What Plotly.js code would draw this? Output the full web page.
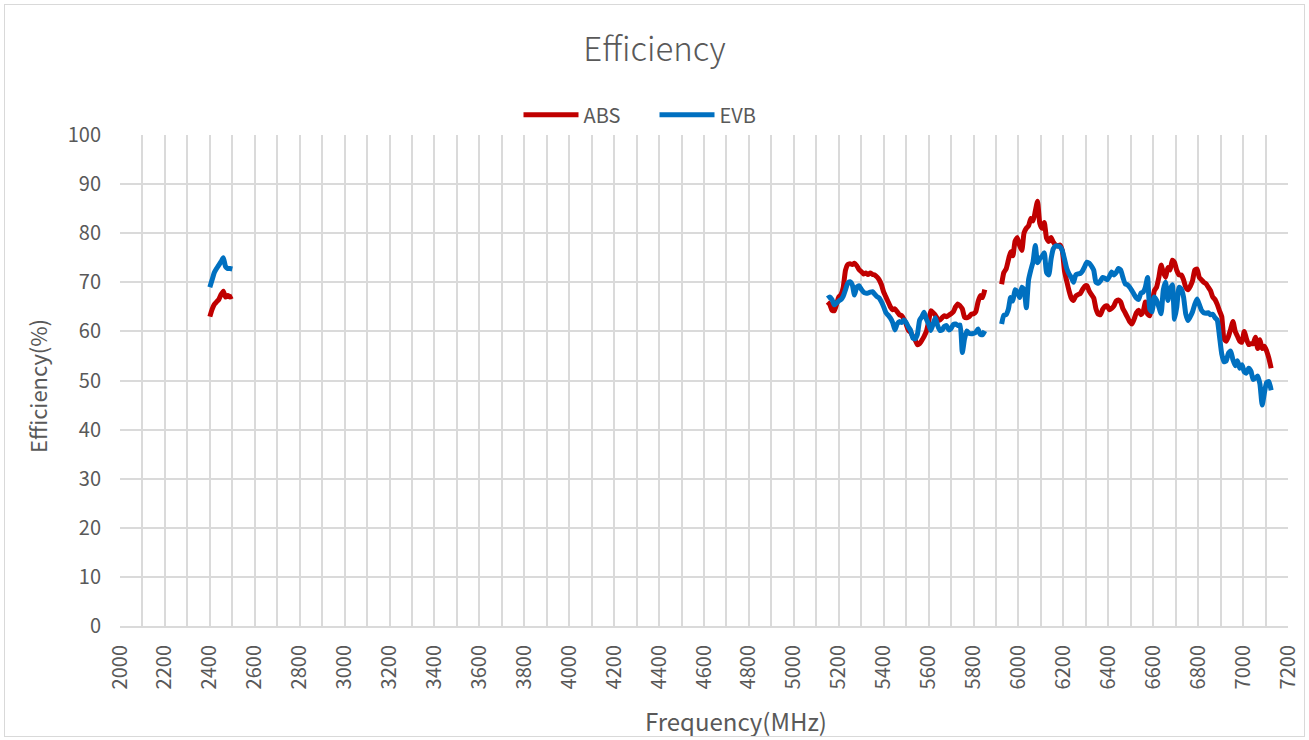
<!DOCTYPE html>
<html>
<head>
<meta charset="utf-8">
<script src="https://cdn.plot.ly/plotly-3.0.1.min.js"></script>
<style>
  html, body { margin: 0; padding: 0; background: #ffffff; }
  #wrap { position: relative; width: 1309px; height: 740px; }
  #chart { position: absolute; left: 0; top: 0; width: 1309px; height: 740px; }
  #frame { position: absolute; left: 4px; top: 4px; width: 1299px; height: 731px; border: 1.5px solid #d9d9d9; pointer-events: none; }
</style>
</head>
<body>
<div id="wrap"><div id="chart"></div><div id="frame"></div></div>
<script>
// ---- Data ----
// 2.4 GHz band: 2400..2500 MHz, 10 MHz step
const band24Start = 2400, band24Step = 10;
const absBand24 = [63, 64.5, 65.5, 66, 66.5, 67.5, 68.2, 67, 67.3, 67, 67.2];
const evbBand24 = [69, 70.5, 72, 72.8, 73.5, 74.2, 75, 73.2, 72.8, 72.8, 72.7];

// 5 GHz band: 5150..5850 MHz, 10 MHz step
const band5Start = 5150, band5Step = 10;
const absBand5 = [
  66, 65.5, 64.3, 64.2, 65.5, 67, 67.5, 69, 72.5, 73.6,
  73.8, 73.6, 73.9, 73.4, 72.6, 72.2, 71.7, 71.9, 71.6, 71.9,
  71.6, 71.5, 71.1, 70.5, 69.5, 68, 67, 66, 65, 64.4,
  64.6, 64, 63.4, 63.2, 62.5, 61.5, 60.2, 59.8, 59, 58.3,
  57.3, 57.5, 58.2, 59, 60, 62, 64.2, 63.8, 63.3, 62.5,
  62.3, 62.8, 63.2, 63, 63.3, 63.6, 64, 65, 65.6, 65.2,
  64.6, 62.9, 62.8, 63, 63.5, 63.6, 64, 66, 67.3, 66.9,
  68.5
];
const evbBand5 = [
  66.7, 67, 66.5, 65.4, 65.8, 66.2, 66.5, 67.2, 68.5, 69.8,
  70.1, 69.5, 67.4, 69, 69.3, 68.6, 68, 67.8, 67.8, 68,
  68.1, 67.6, 67.1, 66.8, 66, 65, 63.8, 63.3, 62.7, 61.8,
  60.3, 61.5, 62, 61.8, 62.3, 61.8, 60.9, 60.2, 58.6, 58.5,
  59.4, 62.3, 63, 63.9, 62.5, 61.5, 60.2, 61.5, 62.8, 61.2,
  60.2, 60.3, 61, 61.2, 60.3, 60.6, 61.4, 61.5, 61.2, 61.3,
  55.7, 58.5, 60.1, 59.6, 59.5, 59.6, 59.8, 60.5, 59.4, 59.3,
  60.1
];

// 6 GHz band: 5925..7125 MHz, 10 MHz step
const band6Start = 5925, band6Step = 10;
const absBand6 = [
  69.6, 72, 72.7, 74.5, 76.2, 75.4, 78.4, 79.1, 77.5, 76.5,
  80.1, 81, 81.5, 83, 82.5, 84.5, 86.5, 82, 81, 82.2,
  79, 78.3, 79.1, 78.2, 77.6, 77.4, 77.6, 76.5, 72.3, 70.2,
  68.3, 66.8, 66.3, 67.2, 67.5, 67.7, 68.5, 69.2, 69.3, 68.2,
  67.5, 66.8, 64.6, 63.5, 63.4, 64.5, 65.1, 65.2, 64.4, 64.7,
  65.2, 66.2, 66.4, 66, 64.6, 63.8, 62.9, 62, 61.5, 62.5,
  63.8, 64.3, 63.4, 64, 66, 63.5, 63.2, 65.5, 68.3, 69,
  71, 73.5, 72, 71, 73, 72.5, 74.5, 74, 72.4, 71.5,
  71.5, 70.5, 69, 68.5, 69.2, 70.3, 72.5, 72.7, 71, 70.5,
  70, 69.7, 69, 68.3, 67, 66.5, 65.5, 64.2, 63, 58.5,
  58, 59, 60.5, 62, 60, 59, 58, 57.8, 60, 58.5,
  57.3, 57.5, 57.5, 58.8, 56.5, 58.3, 56.5, 57, 56, 54.5,
  52.5
];
const evbBand6 = [
  61.5, 63.3, 63.4, 64.5, 66.9, 66.2, 68.5, 68, 66.9, 69,
  68.5, 64.8, 70.5, 72.5, 74.2, 77.5, 74, 74.8, 75.3, 76,
  72, 71.5, 74.7, 76.8, 77.4, 77.4, 77.2, 76.5, 74.7, 72.8,
  71.7, 71, 70, 71.5, 71.7, 71.8, 72.3, 73.2, 74.1, 73.9,
  73.3, 72.5, 70, 69.8, 70.3, 71, 70.8, 70.5, 71.2, 72.1,
  71.5, 72, 72.8, 72.5, 71, 69.7, 69.5, 69, 68.3, 67.5,
  66.8, 66.5, 67.8, 68, 69, 71, 64.5, 64, 67, 66.3,
  65, 63.6, 68.5, 70, 66.3, 68.5, 69.5, 62.5, 65, 69,
  68.6, 67, 63.5, 62.2, 63, 64, 65.5, 66.6, 65.5, 64.3,
  63.8, 63.7, 63.8, 63.4, 63.5, 62.8, 62.3, 59, 55.4, 53.8,
  54, 55.6, 56, 54.2, 53, 54, 52.5, 53.2, 51.8, 51.5,
  52.5, 51.9, 50.2, 50.5, 50.9, 49.3, 45, 47.5, 49.6, 49.8,
  48
];

const seriesNames = ['ABS', 'EVB'];
const seriesColors = ['#C00000', '#0070C0'];
const xTickVals = [2000,2200,2400,2600,2800,3000,3200,3400,3600,3800,4000,4200,4400,4600,4800,5000,5200,5400,5600,5800,6000,6200,6400,6600,6800,7000,7200];
const yTickVals = [0,10,20,30,40,50,60,70,80,90,100];
const chartTitle = 'Efficiency';
const xTitle = 'Frequency(MHz)';
const yTitle = 'Efficiency(%)';

// ---- Build traces (bands joined with null gaps) ----
function freqs(start, step, n) { const a = []; for (let i = 0; i < n; i++) a.push(start + i * step); return a; }
function joinBands(bands) {
  const xs = [], ys = [];
  bands.forEach((b, i) => {
    if (i > 0) { xs.push(null); ys.push(null); }
    const f = freqs(b[0], b[1], b[2].length);
    xs.push(...f); ys.push(...b[2]);
  });
  return { xs, ys };
}
const absJ = joinBands([[band24Start, band24Step, absBand24], [band5Start, band5Step, absBand5], [band6Start, band6Step, absBand6]]);
const evbJ = joinBands([[band24Start, band24Step, evbBand24], [band5Start, band5Step, evbBand5], [band6Start, band6Step, evbBand6]]);

const traces = [
  { x: absJ.xs, y: absJ.ys, name: seriesNames[0], type: 'scatter', mode: 'lines', connectgaps: false,
    line: { color: seriesColors[0], width: 5, shape: 'spline', smoothing: 0.5 } },
  { x: evbJ.xs, y: evbJ.ys, name: seriesNames[1], type: 'scatter', mode: 'lines', connectgaps: false,
    line: { color: seriesColors[1], width: 5, shape: 'spline', smoothing: 0.5 } }
];

// plot-area geometry helpers for placing the axis titles like the reference
const M = { l: 120, r: 21, t: 135, b: 114 };
const W = 1309, H = 740;
const pw = W - M.l - M.r, ph = H - M.t - M.b;
const pxToPaperX = px => (px - M.l) / pw;
const pxToPaperY = py => (H - M.b - py) / ph;

const fontFam = '"Noto Sans CJK SC", "Noto Sans", sans-serif';
const txtColor = '#595959';
const gridC = '#dadada';
const layout = {
  width: W, height: H,
  paper_bgcolor: '#ffffff', plot_bgcolor: '#ffffff',
  margin: { l: M.l, r: M.r, t: M.t, b: M.b, pad: 0 },
  font: { family: fontFam, color: txtColor, size: 20 },
  title: { text: chartTitle, font: { family: fontFam, size: 33, color: txtColor, weight: 300 },
           xref: 'container', x: 0.5, xanchor: 'center', yref: 'container', y: 0.933, yanchor: 'middle' },
  showlegend: true,
  legend: { orientation: 'h', xref: 'container', x: 0.5, xanchor: 'center', yref: 'container', y: 0.845, yanchor: 'middle',
            font: { family: fontFam, size: 20, color: txtColor }, entrywidth: 66, entrywidthmode: 'pixels',
            itemwidth: 55, tracegroupgap: 0, bgcolor: 'rgba(0,0,0,0)' },
  xaxis: {
    range: [2000, 7200], tickmode: 'array', tickvals: xTickVals, ticktext: xTickVals.map(String),
    tickangle: -90, ticks: '', ticklabelstandoff: 9,
    tickfont: { family: fontFam, size: 20, color: txtColor },
    showgrid: true, gridcolor: gridC, gridwidth: 2,
    minor: { dtick: 100, tick0: 2000, showgrid: true, gridcolor: gridC, gridwidth: 2, ticks: '' },
    showline: true, linecolor: gridC, linewidth: 2, zeroline: false
  },
  yaxis: {
    range: [0, 100], tickmode: 'array', tickvals: yTickVals, ticks: '', ticklabelstandoff: 18,
    tickfont: { family: fontFam, size: 20, color: txtColor },
    showgrid: true, gridcolor: gridC, gridwidth: 2, zeroline: false, showline: false
  },
  annotations: [
    { text: xTitle, xref: 'paper', x: pxToPaperX(736), xanchor: 'center', yref: 'paper', y: pxToPaperY(720), yanchor: 'middle',
      showarrow: false, font: { family: fontFam, size: 24, color: txtColor } },
    { text: yTitle, xref: 'paper', x: pxToPaperX(37), xanchor: 'center', yref: 'paper', y: pxToPaperY(386), yanchor: 'middle',
      textangle: -90, showarrow: false, font: { family: fontFam, size: 22, color: txtColor } }
  ]
};

Plotly.newPlot('chart', traces, layout, { staticPlot: true, displayModeBar: false });
</script>
</body>
</html>
